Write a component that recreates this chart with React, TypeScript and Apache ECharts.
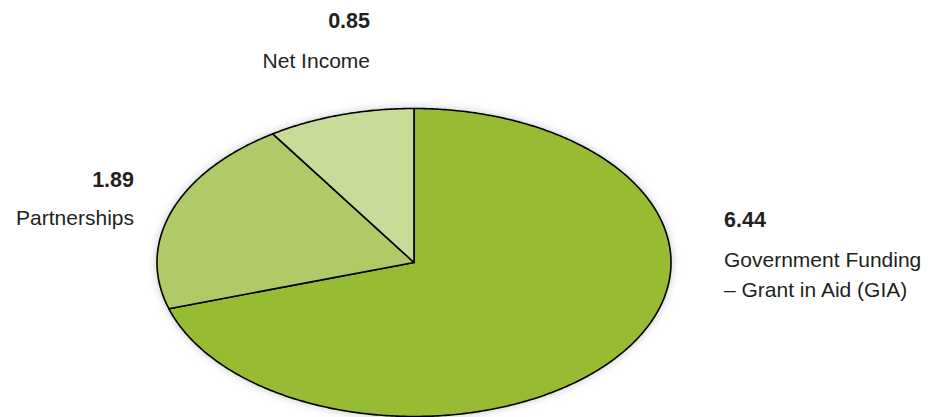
import React, { useEffect, useRef } from "react";
import * as echarts from "echarts";

const categories = ["Government Funding\n– Grant in Aid (GIA)", "Partnerships", "Net Income"];
const values = [6.44, 1.89, 0.85];
const colors = ["#97bb33", "#afca66", "#c8db98"];

export default function App() {
  const ref = useRef<HTMLDivElement>(null);
  useEffect(() => {
    document.body.style.margin = "0";
    const chart = echarts.init(ref.current!, null, { renderer: "svg" });
    const total = values.reduce((a, b) => a + b, 0);
    const cx = 414, cy = 262.5, rx = 257, ry = 154;
    const font = "Liberation Sans, Arial, sans-serif";
    const textColor = "#231f20";
    const numFont = `bold 21.5px ${font}`;
    const lblFont = `21px ${font}`;

    const renderItem = (params: any, api: any) => {
      const i = params.dataIndex;
      let before = 0;
      for (let k = 0; k < i; k++) before += values[k];
      const v = api.value(1);
      const a0 = (before / total) * Math.PI * 2;
      const a1 = ((before + v) / total) * Math.PI * 2;
      const pts: number[][] = [[cx, cy]];
      const steps = Math.max(8, Math.ceil((a1 - a0) / 0.01));
      for (let s = 0; s <= steps; s++) {
        const t = a0 + ((a1 - a0) * s) / steps;
        pts.push([cx + rx * Math.sin(t), cy - ry * Math.cos(t)]);
      }
      return {
        type: "polygon",
        shape: { points: pts },
        style: { fill: colors[i], stroke: "#000", lineWidth: 1.6, lineJoin: "round" },
      };
    };

    const labelLines = (name: string) => name.split("\n");
    const txt = (x: number, y: number, text: string, f: string, align: string) => ({
      type: "text",
      x,
      y,
      style: { text, font: f, fill: textColor, align, verticalAlign: "middle" },
    });

    const graphic: any[] = [
      {
        type: "ellipse",
        shape: { cx, cy, rx, ry },
        style: { fill: "#fff", shadowBlur: 10, shadowColor: "rgba(0,0,0,0.25)" },
        z: -1,
      },
      // Net Income
      txt(370, 21, values[2].toFixed(2), numFont, "right"),
      txt(370, 60, categories[2], lblFont, "right"),
      // Partnerships
      txt(134, 180, values[1].toFixed(2), numFont, "right"),
      txt(134, 217, categories[1], lblFont, "right"),
      // Government
      txt(724, 220, values[0].toFixed(2), numFont, "left"),
      txt(724, 259, labelLines(categories[0])[0], lblFont, "left"),
      txt(724, 289, labelLines(categories[0])[1], lblFont, "left"),
    ];

    chart.setOption({
      animation: false,
      backgroundColor: "#fff",
      graphic,
      series: [
        {
          type: "custom",
          coordinateSystem: "none",
          renderItem,
          data: values.map((v, i) => [i, v]),
          z: 2,
        },
      ],
    });
    return () => chart.dispose();
  }, []);
  return <div ref={ref} style={{ width: 935, height: 417 }} />;
}
